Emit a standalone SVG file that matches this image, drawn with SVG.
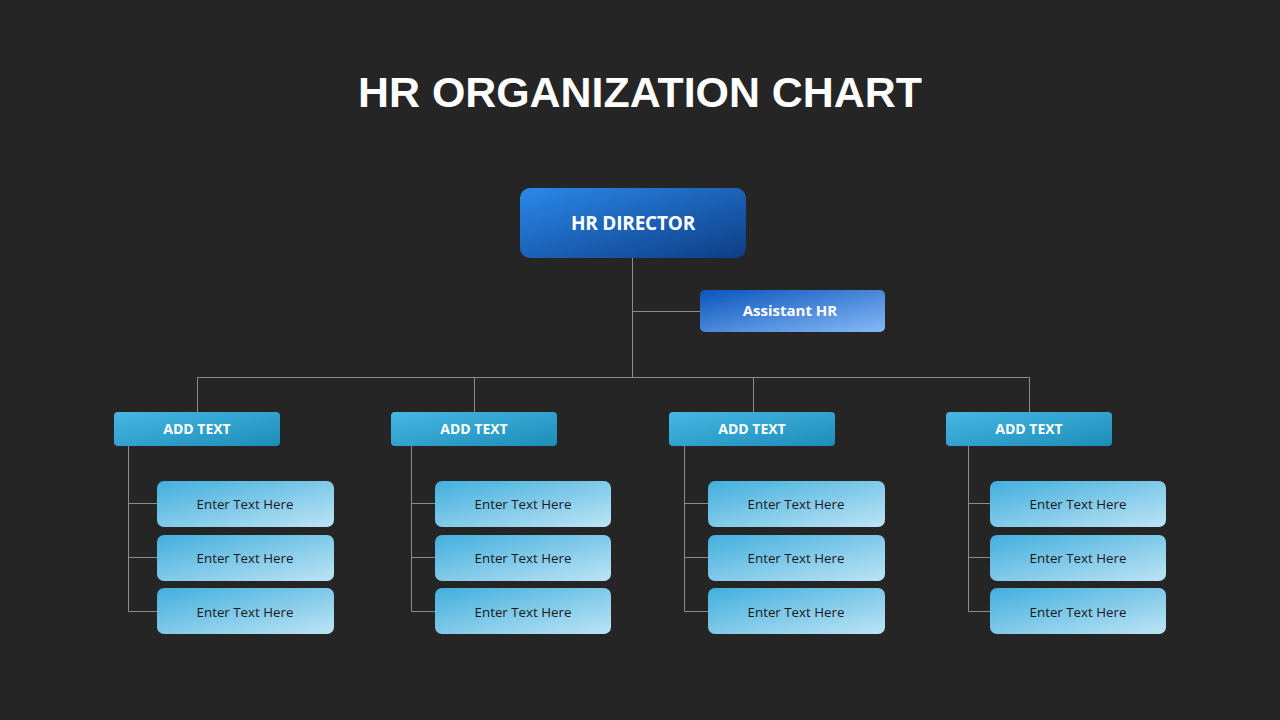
<svg xmlns="http://www.w3.org/2000/svg" width="1280" height="720" viewBox="0 0 1280 720">
<defs>
<linearGradient id="gDir" x1="0" y1="0" x2="1" y2="1"><stop offset="0" stop-color="#2a88ea"/><stop offset="1" stop-color="#0d3d85"/></linearGradient>
<linearGradient id="gAsst" x1="0" y1="0" x2="1" y2="1"><stop offset="0" stop-color="#0a55bb"/><stop offset="1" stop-color="#86b9f7"/></linearGradient>
<linearGradient id="gHead" x1="0" y1="0" x2="1" y2="1"><stop offset="0" stop-color="#46b8e3"/><stop offset="1" stop-color="#1d8cb9"/></linearGradient>
<linearGradient id="gItem" x1="0" y1="0" x2="1" y2="1"><stop offset="0" stop-color="#42afdd"/><stop offset="1" stop-color="#bde4f5"/></linearGradient>
<style>
.conn line{stroke:#8c8c8c;stroke-width:1;fill:none}
.t{font-family:"Open Sans","Noto Sans","DejaVu Sans",sans-serif;text-anchor:middle}
.w{fill:#ffffff;font-weight:bold}
.d{fill:#1a1a1a;font-size:13.3px}
.h{font-size:14px}
</style>
</defs>
<rect width="1280" height="720" fill="#252525"/>
<text x="640" y="107" font-family="'Liberation Sans',Arial,sans-serif" font-weight="bold" font-size="42.9" fill="#ffffff" text-anchor="middle">HR ORGANIZATION CHART</text>
<g class="conn">
<line x1="632.5" y1="258" x2="632.5" y2="377.5"/>
<line x1="632.5" y1="311.5" x2="700" y2="311.5"/>
<line x1="197.5" y1="377.5" x2="1029.5" y2="377.5"/>
<line x1="197.5" y1="377.5" x2="197.5" y2="412"/>
<line x1="474.5" y1="377.5" x2="474.5" y2="412"/>
<line x1="753.5" y1="377.5" x2="753.5" y2="412"/>
<line x1="1029.5" y1="377.5" x2="1029.5" y2="412"/>
<line x1="128.5" y1="446" x2="128.5" y2="611.5"/>
<line x1="128.5" y1="503.5" x2="157" y2="503.5"/>
<line x1="128.5" y1="557.5" x2="157" y2="557.5"/>
<line x1="128.5" y1="611.5" x2="157" y2="611.5"/>
<line x1="411.5" y1="446" x2="411.5" y2="611.5"/>
<line x1="411.5" y1="503.5" x2="435" y2="503.5"/>
<line x1="411.5" y1="557.5" x2="435" y2="557.5"/>
<line x1="411.5" y1="611.5" x2="435" y2="611.5"/>
<line x1="684.5" y1="446" x2="684.5" y2="611.5"/>
<line x1="684.5" y1="503.5" x2="708" y2="503.5"/>
<line x1="684.5" y1="557.5" x2="708" y2="557.5"/>
<line x1="684.5" y1="611.5" x2="708" y2="611.5"/>
<line x1="968.5" y1="446" x2="968.5" y2="611.5"/>
<line x1="968.5" y1="503.5" x2="990" y2="503.5"/>
<line x1="968.5" y1="557.5" x2="990" y2="557.5"/>
<line x1="968.5" y1="611.5" x2="990" y2="611.5"/>
</g>
<g id="director"><rect x="520" y="188" width="226" height="70" rx="10" fill="url(#gDir)"/><text class="t w" x="633" y="229.5" font-size="19" letter-spacing="-0.2">HR DIRECTOR</text></g>
<g id="assistant"><rect x="700" y="290" width="185" height="42" rx="5" fill="url(#gAsst)"/><text class="t w" x="790" y="316" font-size="15">Assistant HR</text></g>
<g id="head1"><rect x="114" y="412" width="166" height="34" rx="4" fill="url(#gHead)"/><text class="t w h" x="197" y="434">ADD TEXT</text></g>
<g id="head2"><rect x="391" y="412" width="166" height="34" rx="4" fill="url(#gHead)"/><text class="t w h" x="474" y="434">ADD TEXT</text></g>
<g id="head3"><rect x="669" y="412" width="166" height="34" rx="4" fill="url(#gHead)"/><text class="t w h" x="752" y="434">ADD TEXT</text></g>
<g id="head4"><rect x="946" y="412" width="166" height="34" rx="4" fill="url(#gHead)"/><text class="t w h" x="1029" y="434">ADD TEXT</text></g>
<g id="c1i1"><rect x="157" y="481" width="177" height="46" rx="7" fill="url(#gItem)"/><text class="t d" x="245" y="509">Enter Text Here</text></g>
<g id="c1i2"><rect x="157" y="535" width="177" height="46" rx="7" fill="url(#gItem)"/><text class="t d" x="245" y="563">Enter Text Here</text></g>
<g id="c1i3"><rect x="157" y="588" width="177" height="46" rx="7" fill="url(#gItem)"/><text class="t d" x="245" y="617">Enter Text Here</text></g>
<g id="c2i1"><rect x="435" y="481" width="176" height="46" rx="7" fill="url(#gItem)"/><text class="t d" x="523" y="509">Enter Text Here</text></g>
<g id="c2i2"><rect x="435" y="535" width="176" height="46" rx="7" fill="url(#gItem)"/><text class="t d" x="523" y="563">Enter Text Here</text></g>
<g id="c2i3"><rect x="435" y="588" width="176" height="46" rx="7" fill="url(#gItem)"/><text class="t d" x="523" y="617">Enter Text Here</text></g>
<g id="c3i1"><rect x="708" y="481" width="177" height="46" rx="7" fill="url(#gItem)"/><text class="t d" x="796" y="509">Enter Text Here</text></g>
<g id="c3i2"><rect x="708" y="535" width="177" height="46" rx="7" fill="url(#gItem)"/><text class="t d" x="796" y="563">Enter Text Here</text></g>
<g id="c3i3"><rect x="708" y="588" width="177" height="46" rx="7" fill="url(#gItem)"/><text class="t d" x="796" y="617">Enter Text Here</text></g>
<g id="c4i1"><rect x="990" y="481" width="176" height="46" rx="7" fill="url(#gItem)"/><text class="t d" x="1078" y="509">Enter Text Here</text></g>
<g id="c4i2"><rect x="990" y="535" width="176" height="46" rx="7" fill="url(#gItem)"/><text class="t d" x="1078" y="563">Enter Text Here</text></g>
<g id="c4i3"><rect x="990" y="588" width="176" height="46" rx="7" fill="url(#gItem)"/><text class="t d" x="1078" y="617">Enter Text Here</text></g>
</svg>
